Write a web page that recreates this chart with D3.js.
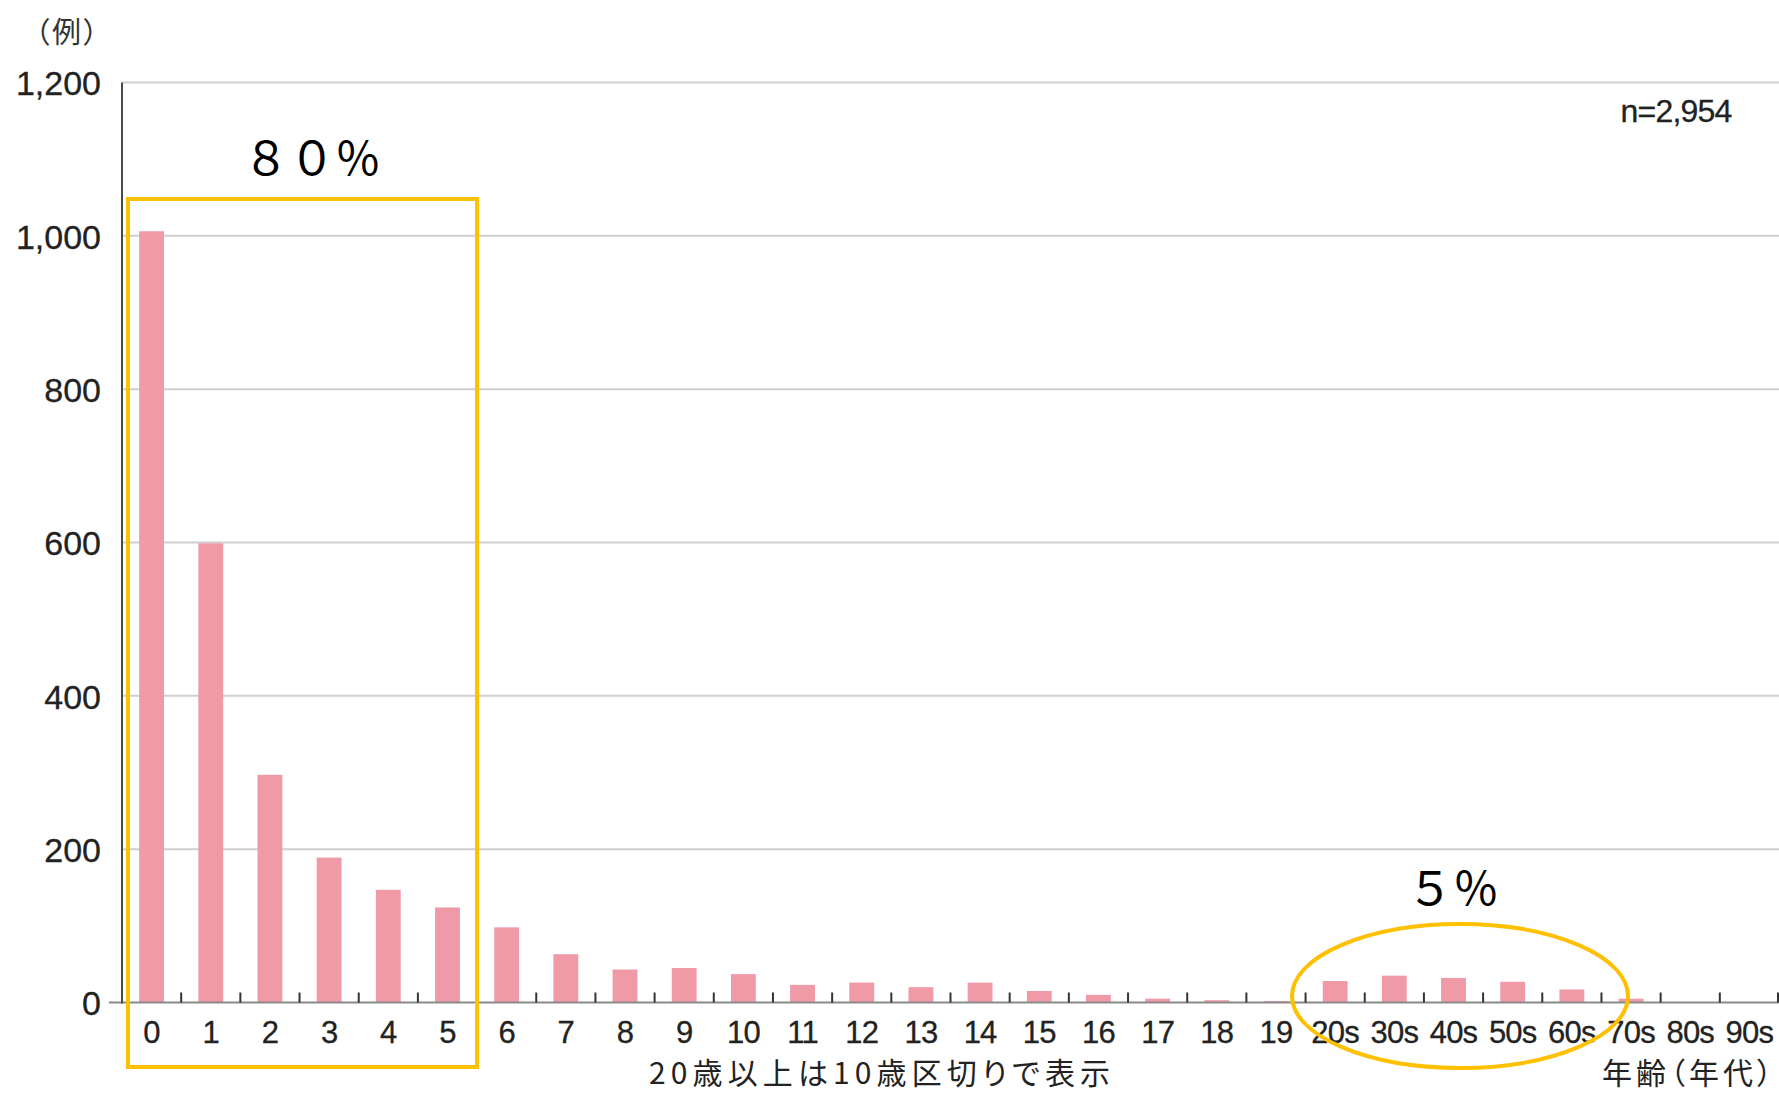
<!DOCTYPE html>
<html>
<head>
<meta charset="utf-8">
<script src="https://cdn.jsdelivr.net/npm/d3@7"></script>
<style>
  html, body { margin: 0; padding: 0; background: #fff; }
  svg { display: block; }
  .palt { font-feature-settings: "palt" 1; }
</style>
</head>
<body>
<svg id="chart" width="1779" height="1093"></svg>
<script>
// ---- data ----
const categories = ["0","1","2","3","4","5","6","7","8","9","10","11","12","13","14","15","16","17","18","19",
                    "20s","30s","40s","50s","60s","70s","80s","90s"];
const counts = [1006, 599, 297, 189, 147, 124, 98, 63, 43, 45, 37, 23, 26, 20, 26, 15, 10, 5, 3, 2,
                28, 35, 32, 27, 17, 5, 0, 0];
const yTicks = [0, 200, 400, 600, 800, 1000, 1200];
const yUnitLabel = "（例）";
const nLabel = "n=2,954";
const xCaption = "20歳以上は10歳区切りで表示";
const xUnitLabel = "年齢（年代）";
const bigShareLabel = "８０％";
const smallShareLabel = "５％";

// ---- layout ----
const svg = d3.select("#chart");
const plotL = 122, plotR = 1779, plotT = 82.5, plotB = 1002.5;
const latin = "'Liberation Sans', Arial, Helvetica, sans-serif";
const cjk = "'Noto Sans CJK JP', 'Noto Sans', sans-serif";

const x = d3.scaleBand().domain(categories).range([plotL, plotR]).paddingInner(0).paddingOuter(0);
const xBar = d3.scaleBand().domain(categories).range([plotL, plotR]).paddingInner(0.58).paddingOuter(0.29);
const y = d3.scaleLinear().domain([0, 1200]).range([plotB, plotT]);

// gridlines
svg.append("g").selectAll("line").data(yTicks.filter(d => d > 0)).join("line")
  .attr("x1", plotL).attr("x2", plotR)
  .attr("y1", d => y(d)).attr("y2", d => y(d))
  .attr("stroke", "#cfcfcf").attr("stroke-width", 2);

// bars
svg.append("g").selectAll("rect").data(categories).join("rect")
  .attr("x", d => xBar(d))
  .attr("width", xBar.bandwidth())
  .attr("y", (d, i) => y(counts[i]))
  .attr("height", (d, i) => y(0) - y(counts[i]))
  .attr("fill", "#f19aa7");

// baseline
svg.append("line")
  .attr("x1", plotL - 13).attr("x2", plotR)
  .attr("y1", y(0)).attr("y2", y(0))
  .attr("stroke", "#8a8a8a").attr("stroke-width", 2);

// x ticks at band boundaries
svg.append("g").selectAll("line").data(categories.slice(1).concat(["__end"])).join("line")
  .attr("x1", d => d === "__end" ? plotR - 1 : x(d))
  .attr("x2", d => d === "__end" ? plotR - 1 : x(d))
  .attr("y1", y(0)).attr("y2", y(0) - 10)
  .attr("stroke", "#333").attr("stroke-width", 2);

// y axis line
svg.append("line")
  .attr("x1", plotL).attr("x2", plotL)
  .attr("y1", y(1200)).attr("y2", y(0) + 1)
  .attr("stroke", "#4a4a4a").attr("stroke-width", 2);

// y labels
const yAxis = d3.axisLeft(y).tickValues(yTicks).tickSize(0).tickPadding(0).tickFormat(d3.format(","));
const gy = svg.append("g").attr("transform", `translate(${plotL - 21},0)`).call(yAxis);
gy.select(".domain").remove();
gy.selectAll("text")
  .attr("font-family", latin).attr("font-size", 34).attr("fill", "#222")
  .attr("stroke", "#222").attr("stroke-width", 0.3)
  .attr("dy", "0.36em");

// x labels
const xAxis = d3.axisBottom(x).tickSize(0).tickPadding(0);
const gx = svg.append("g").attr("transform", `translate(0,${y(0)})`).call(xAxis);
gx.select(".domain").remove();
gx.selectAll("text")
  .attr("font-family", latin).attr("font-size", 31).attr("fill", "#222")
  .attr("stroke", "#222").attr("stroke-width", 0.3)
  .attr("y", 40).attr("dy", 0).attr("letter-spacing", -0.8);

// unit labels / captions
svg.append("text").text(yUnitLabel).attr("class", "palt")
  .attr("x", 35).attr("y", 43)
  .attr("textLength", 63).attr("lengthAdjust", "spacing")
  .attr("font-family", cjk).attr("font-size", 29).attr("fill", "#333");

svg.append("text").text(nLabel)
  .attr("x", 1676).attr("y", 122).attr("text-anchor", "middle")
  .attr("font-family", latin).attr("font-size", 32).attr("fill", "#222")
  .attr("stroke", "#222").attr("stroke-width", 0.3).attr("letter-spacing", -0.8);

svg.append("text").text(xCaption).attr("class", "palt")
  .attr("x", 649).attr("y", 1084)
  .attr("textLength", 461).attr("lengthAdjust", "spacing")
  .attr("font-family", cjk).attr("font-size", 30).attr("fill", "#222");

svg.append("text").text(xUnitLabel).attr("class", "palt")
  .attr("x", 1602).attr("y", 1084)
  .attr("textLength", 170).attr("lengthAdjust", "spacing")
  .attr("font-family", cjk).attr("font-size", 30).attr("fill", "#222");

// annotations
const bw = x.bandwidth();
svg.append("rect")
  .attr("x", x("0") + 6).attr("y", 199)
  .attr("width", x("5") + bw - x("0") - 6).attr("height", 1067 - 199)
  .attr("fill", "none").attr("stroke", "#ffc000").attr("stroke-width", 4);

svg.append("text").text(bigShareLabel)
  .attr("x", 312).attr("y", 175).attr("text-anchor", "middle")
  .attr("font-family", cjk).attr("font-size", 46).attr("fill", "#000");

const ecx = (x("20s") - 15 + x("60s") + bw + 28) / 2;
svg.append("ellipse")
  .attr("cx", ecx).attr("cy", 996)
  .attr("rx", 168).attr("ry", 72)
  .attr("fill", "none").attr("stroke", "#ffc000").attr("stroke-width", 4);

svg.append("text").text(smallShareLabel)
  .attr("x", 1453).attr("y", 905).attr("text-anchor", "middle")
  .attr("font-family", cjk).attr("font-size", 46).attr("fill", "#000");
</script>
</body>
</html>
